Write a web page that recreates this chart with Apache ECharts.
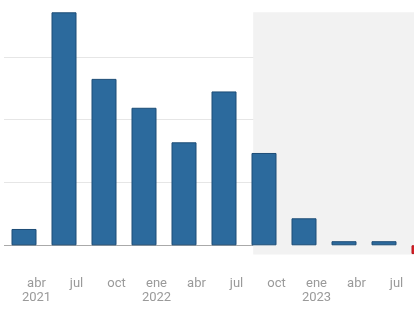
<!DOCTYPE html>
<html>
<head>
<meta charset="utf-8">
<script src="https://cdn.jsdelivr.net/npm/echarts@6/dist/echarts.min.js"></script>
<style>html,body{margin:0;padding:0;background:#fff;}#c{width:414px;height:311px;}</style>
</head>
<body>
<div id="c"></div>
<script>
const categories = ['abr\n2021','jul','oct','ene\n2022','abr','jul','oct','ene\n2023','abr','jul','oct'];
const values = [0.26, 3.71, 2.65, 2.19, 1.64, 2.45, 1.47, 0.43, 0.065, 0.065, -0.14];
const yMin = -0.5, yMax = 4, yStep = 0.5;
const shadeStart = 5.73;   // position along the category index scale
const shadeEnd = 10.5;
const shadeTop = 3.71;
const shadeBottom = -0.145;

const T = 'rgba(0,0,0,0)', G = '#e6e6e6', Z = '#aaaaaa';
// ticks: -0.5, 0, 0.5, 1, 1.5, 2, 2.5, 3, 3.5, 4
const lineColors = [T, Z, T, G, T, G, T, G, T, T];

const chart = echarts.init(document.getElementById('c'), null, {renderer: 'canvas'});
const barData = values.map(v => v < 0
  ? {value: v, itemStyle: {color: '#d91f26', borderColor: '#b5161c'}}
  : {value: v});

chart.setOption({
  animation: false,
  grid: {left: 4, width: 440, top: -5.9, height: 282.6, containLabel: false, outerBoundsMode: 'none'},
  xAxis: [{
    type: 'category',
    data: categories,
    boundaryGap: true,
    axisLine: {show: false, onZero: false},
    axisTick: {show: false},
    splitLine: {show: false},
    axisLabel: {
      color: '#9a9a9a', fontSize: 13, fontFamily: 'Roboto', lineHeight: 14,
      margin: 0, interval: 0, padding: [0, 0, 0, 25], align: 'center'
    }
  }, {
    type: 'value', min: -0.5, max: 10.5, show: false
  }],
  yAxis: {
    type: 'value', min: yMin, max: yMax, interval: yStep,
    axisLine: {show: false}, axisTick: {show: false}, axisLabel: {show: false},
    splitLine: {show: true, lineStyle: {color: lineColors, width: 1}}
  },
  series: [{
    type: 'line',
    xAxisIndex: 1,
    data: [],
    z: -5,
    silent: true,
    markArea: {
      silent: true,
      itemStyle: {color: '#f2f2f2'},
      data: [[{coord: [shadeStart, shadeTop]}, {coord: [shadeEnd, shadeBottom]}]]
    }
  }, {
    type: 'bar',
    data: barData,
    barWidth: 25,
    itemStyle: {color: '#2c6a9d', borderColor: '#1d4d77', borderWidth: 1},
    z: 2
  }]
});
</script>
</body>
</html>
